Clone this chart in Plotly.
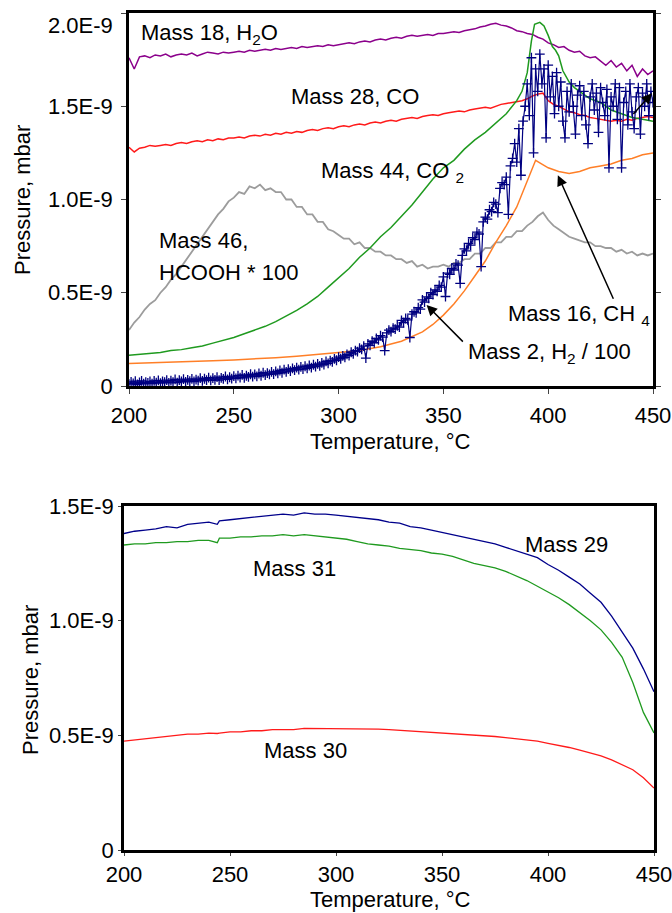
import plotly.graph_objects as go

E9 = 1e-9  # pressures below are given in units of 1E-9 mbar

# ---------------- upper panel: formic acid decomposition products ----------------
t_fine = [200 + 2.5 * i for i in range(101)]          # 200 ... 450 °C

h2o_18 = [1.76, 1.70, 1.765, 1.77, 1.76, 1.775, 1.77, 1.78, 1.765, 1.775,
          1.78, 1.775, 1.785, 1.77, 1.78, 1.79, 1.785, 1.78, 1.79, 1.785,
          1.79, 1.795, 1.79, 1.80, 1.795, 1.80, 1.805, 1.80, 1.81, 1.805,
          1.81, 1.815, 1.81, 1.82, 1.815, 1.82, 1.825, 1.82, 1.83, 1.825,
          1.83, 1.835, 1.84, 1.835, 1.845, 1.85, 1.845, 1.855, 1.86, 1.855,
          1.865, 1.87, 1.865, 1.875, 1.88, 1.875, 1.88, 1.885, 1.88, 1.89,
          1.89, 1.895, 1.90, 1.895, 1.905, 1.91, 1.915, 1.925, 1.93, 1.94,
          1.945, 1.935, 1.93, 1.92, 1.905, 1.90, 1.89, 1.885, 1.87, 1.86,
          1.84, 1.83, 1.815, 1.82, 1.80, 1.79, 1.795, 1.77, 1.76, 1.765,
          1.74, 1.72, 1.745, 1.71, 1.73, 1.69, 1.72, 1.66, 1.70, 1.67,
          1.69]

co_28 = [1.28, 1.255, 1.275, 1.28, 1.29, 1.285, 1.29, 1.295, 1.29, 1.30,
         1.305, 1.30, 1.31, 1.315, 1.31, 1.32, 1.315, 1.325, 1.32, 1.33,
         1.33, 1.335, 1.33, 1.34, 1.345, 1.34, 1.35, 1.345, 1.355, 1.35,
         1.36, 1.355, 1.365, 1.36, 1.37, 1.375, 1.37, 1.38, 1.385, 1.38,
         1.39, 1.395, 1.39, 1.40, 1.405, 1.40, 1.41, 1.415, 1.41, 1.42,
         1.425, 1.42, 1.43, 1.435, 1.44, 1.435, 1.445, 1.45, 1.455, 1.45,
         1.46, 1.465, 1.47, 1.475, 1.47, 1.48, 1.485, 1.49, 1.495, 1.49,
         1.50, 1.51, 1.515, 1.52, 1.525, 1.53, 1.54, 1.555, 1.565, 1.57,
         1.53, 1.51, 1.50, 1.485, 1.47, 1.465, 1.455, 1.45, 1.44, 1.435,
         1.43, 1.425, 1.42, 1.425, 1.42, 1.43, 1.425, 1.435, 1.44, 1.445,
         1.44]

hcooh_46 = [0.30, 0.34, 0.37, 0.41, 0.44, 0.46, 0.50, 0.53, 0.57, 0.60,
            0.64, 0.68, 0.72, 0.76, 0.80, 0.84, 0.88, 0.92, 0.95, 0.99,
            1.01, 1.04, 1.03, 1.07, 1.06, 1.08, 1.05, 1.06, 1.04, 1.04,
            1.00, 1.00, 0.96, 0.96, 0.92, 0.92, 0.88, 0.88, 0.84, 0.83,
            0.81, 0.79, 0.79, 0.76, 0.77, 0.74, 0.74, 0.72, 0.72, 0.70,
            0.70, 0.68, 0.68, 0.66, 0.67, 0.64, 0.65, 0.63, 0.64, 0.64,
            0.65, 0.64, 0.66, 0.66, 0.68, 0.68, 0.71, 0.71, 0.74, 0.74,
            0.77, 0.77, 0.80, 0.80, 0.83, 0.83, 0.86, 0.88, 0.91, 0.93,
            0.89, 0.86, 0.84, 0.82, 0.80, 0.79, 0.78, 0.77, 0.77, 0.75,
            0.75, 0.74, 0.74, 0.72, 0.73, 0.71, 0.72, 0.70, 0.71, 0.70,
            0.71]

t_co2 = [200, 205, 210, 215, 220, 225, 230, 235, 240, 245, 250, 255, 260, 265,
         270, 275, 280, 285, 290, 295, 300, 305, 310, 315, 320, 325, 330, 335,
         340, 345, 350, 355, 360, 365, 370, 375, 380, 385, 387.5, 390, 392,
         393.5, 396, 398, 400, 402, 403.5, 405, 407, 410, 412.5, 415, 420, 425,
         430, 435, 440, 445, 450]
co2_44 = [0.165, 0.17, 0.175, 0.18, 0.19, 0.195, 0.205, 0.215, 0.23, 0.245,
          0.26, 0.28, 0.30, 0.32, 0.345, 0.375, 0.405, 0.44, 0.48, 0.53,
          0.58, 0.63, 0.69, 0.74, 0.80, 0.85, 0.91, 0.97, 1.04, 1.11,
          1.17, 1.21, 1.27, 1.32, 1.36, 1.41, 1.46, 1.53, 1.58, 1.68, 1.85,
          1.94, 1.95, 1.93, 1.88, 1.82, 1.80, 1.77, 1.69, 1.63, 1.60, 1.58,
          1.54, 1.52, 1.48, 1.46, 1.44, 1.43, 1.42]

t_ch4 = [200, 210, 220, 230, 240, 250, 260, 270, 280, 290, 300, 310, 320, 330,
         340, 345, 350, 355, 360, 365, 370, 375, 380, 385, 390, 394, 397, 400,
         405, 410, 415, 420, 425, 430, 435, 440, 445, 450]
ch4_16 = [0.12, 0.125, 0.128, 0.132, 0.136, 0.14, 0.145, 0.152, 0.16, 0.168,
          0.18, 0.19, 0.21, 0.24, 0.29, 0.33, 0.38, 0.44, 0.51, 0.59, 0.67,
          0.77, 0.86, 0.96, 1.10, 1.21, 1.19, 1.17, 1.15, 1.14, 1.15, 1.17,
          1.18, 1.19, 1.21, 1.22, 1.24, 1.25]

t_h2 = list(range(200, 451))                             # one reading per °C
h2_2 = [0.010, 0.022, 0.014, 0.026, 0.008, 0.019, 0.027, 0.012, 0.021, 0.016,
        0.024, 0.013, 0.028, 0.018, 0.030, 0.015, 0.025, 0.020, 0.032, 0.017,
        0.029, 0.021, 0.035, 0.018, 0.031, 0.024, 0.037, 0.022, 0.033, 0.026,
        0.038, 0.024, 0.034, 0.029, 0.042, 0.027, 0.039, 0.031, 0.045, 0.030,
        0.042, 0.033, 0.048, 0.031, 0.044, 0.038, 0.051, 0.036, 0.047, 0.040,
        0.053, 0.041, 0.056, 0.045, 0.060, 0.044, 0.055, 0.049, 0.063, 0.050,
        0.062, 0.052, 0.067, 0.055, 0.071, 0.058, 0.069, 0.062, 0.076, 0.064,
        0.078, 0.068, 0.083, 0.071, 0.088, 0.076, 0.091, 0.080, 0.094, 0.085,
        0.098, 0.088, 0.103, 0.090, 0.106, 0.095, 0.110, 0.099, 0.114, 0.104,
        0.119, 0.108, 0.124, 0.115, 0.132, 0.121, 0.136, 0.129, 0.145, 0.138,
        0.155, 0.146, 0.162, 0.154, 0.170, 0.163, 0.181, 0.172, 0.190, 0.184,
        0.203, 0.196, 0.214, 0.150, 0.226, 0.218, 0.240, 0.232, 0.255, 0.247,
        0.270, 0.262, 0.190, 0.285, 0.300, 0.292, 0.310, 0.305, 0.322, 0.316,
        0.352, 0.340, 0.362, 0.355, 0.260, 0.385, 0.398, 0.392, 0.420, 0.412,
        0.462, 0.450, 0.478, 0.470, 0.500, 0.490, 0.515, 0.508, 0.540, 0.530,
        0.585, 0.480, 0.605, 0.598, 0.630, 0.622, 0.655, 0.648, 0.550, 0.700,
        0.735, 0.725, 0.765, 0.755, 0.795, 0.785, 0.825, 0.815, 0.640, 0.880,
        0.905, 0.895, 0.945, 0.935, 0.985, 0.975, 0.930, 1.060, 1.090, 1.080,
        1.12, 0.92, 1.18, 1.22, 1.30, 1.20, 1.38, 1.13, 1.42, 1.50,
        1.62, 1.45, 1.76, 1.25, 1.70, 1.58, 1.78, 1.62, 1.70, 1.33,
        1.72, 1.55, 1.66, 1.46, 1.68, 1.50, 1.63, 1.42, 1.33, 1.58,
        1.47, 1.62, 1.50, 1.35, 1.56, 1.61, 1.45, 1.58, 1.40, 1.30,
        1.55, 1.62, 1.48, 1.57, 1.36, 1.60, 1.52, 1.45, 1.59, 1.17,
        1.55, 1.50, 1.62, 1.43, 1.60, 1.17, 1.52, 1.58, 1.40, 1.62,
        1.47, 1.38, 1.55, 1.60, 1.35, 1.57, 1.50, 1.62, 1.45, 1.58,
        1.52]

# ---------------- lower panel: masses 29, 30, 31 ----------------
t_low = [200, 205, 210, 215, 220, 225, 230, 235, 240, 244, 245, 250, 255, 260,
         265, 270, 275, 280, 285, 290, 295, 300, 305, 310, 315, 320, 325, 330,
         335, 340, 345, 350, 355, 360, 365, 370, 375, 380, 385, 390, 395, 400,
         405, 410, 415, 420, 425, 430, 435, 440, 445, 450]
mass_29 = [1.38, 1.39, 1.395, 1.40, 1.41, 1.405, 1.42, 1.425, 1.43, 1.42, 1.435,
           1.44, 1.445, 1.45, 1.455, 1.46, 1.465, 1.46, 1.47, 1.465, 1.465,
           1.46, 1.455, 1.45, 1.445, 1.44, 1.43, 1.425, 1.41, 1.405, 1.395,
           1.385, 1.375, 1.365, 1.355, 1.345, 1.335, 1.32, 1.305, 1.29, 1.275,
           1.245, 1.22, 1.19, 1.16, 1.12, 1.08, 1.02, 0.95, 0.88, 0.79, 0.69]
mass_31 = [1.33, 1.335, 1.335, 1.34, 1.34, 1.345, 1.345, 1.35, 1.35, 1.34, 1.36,
           1.36, 1.365, 1.365, 1.37, 1.37, 1.375, 1.37, 1.375, 1.37, 1.365,
           1.36, 1.355, 1.345, 1.335, 1.33, 1.325, 1.315, 1.31, 1.305, 1.295,
           1.29, 1.28, 1.265, 1.25, 1.24, 1.23, 1.215, 1.195, 1.175, 1.15,
           1.125, 1.10, 1.07, 1.035, 1.00, 0.96, 0.905, 0.84, 0.73, 0.60, 0.51]
mass_30 = [0.475, 0.48, 0.485, 0.49, 0.495, 0.50, 0.505, 0.505, 0.51, 0.508, 0.51,
           0.515, 0.515, 0.52, 0.52, 0.525, 0.525, 0.525, 0.53, 0.53, 0.53,
           0.53, 0.53, 0.53, 0.528, 0.527, 0.525, 0.522, 0.52, 0.518, 0.515,
           0.513, 0.51, 0.507, 0.503, 0.50, 0.495, 0.49, 0.485, 0.48, 0.475,
           0.465, 0.457, 0.447, 0.435, 0.423, 0.41, 0.393, 0.372, 0.35, 0.315,
           0.27]

x_ticks = [200, 250, 300, 350, 400, 450]
y_ticks_top = [0, 0.5, 1.0, 1.5, 2.0]
y_ticks_low = [0, 0.5, 1.0, 1.5]
y_ticktext = {0: "0", 0.5: "0.5E-9", 1.0: "1.0E-9", 1.5: "1.5E-9", 2.0: "2.0E-9"}

FONT = "Arial, 'Liberation Sans', Helvetica, sans-serif"
FS = 22
W, H = 672, 913


def scaled(vals):
    return [v * E9 for v in vals]


fig = go.Figure()

line_traces = [
    (t_fine, h2o_18, "#8b008b", 1.5, "x", "y"),
    (t_fine, co_28, "#ff1a1a", 1.5, "x", "y"),
    (t_fine, hcooh_46, "#9c9c9c", 1.8, "x", "y"),
    (t_co2, co2_44, "#1f9a1f", 1.5, "x", "y"),
    (t_ch4, ch4_16, "#ff7f27", 1.5, "x", "y"),
    (t_low, mass_30, "#ff1a1a", 1.3, "x2", "y2"),
    (t_low, mass_31, "#1f9a1f", 1.3, "x2", "y2"),
    (t_low, mass_29, "#00008b", 1.3, "x2", "y2"),
]
for xs, ys, col, lw, xa, ya in line_traces:
    fig.add_trace(go.Scatter(x=xs, y=scaled(ys), mode="lines",
                             line=dict(color=col, width=lw),
                             xaxis=xa, yaxis=ya, showlegend=False,
                             hoverinfo="skip"))

# hydrogen signal drawn with "+" markers on every point
fig.add_trace(go.Scatter(x=t_h2, y=scaled(h2_2), mode="lines+markers",
                         line=dict(color="#000080", width=1.2),
                         marker=dict(symbol="cross-thin", size=7,
                                     line=dict(color="#000080", width=1.3)),
                         xaxis="x", yaxis="y", showlegend=False,
                         hoverinfo="skip"))

axis_common = dict(showline=True, linecolor="black", linewidth=2.5,
                   showgrid=False, zeroline=False, ticks="outside",
                   tickwidth=1, tickcolor="#444", automargin=False,
                   ticklabeloverflow="allow",
                   tickfont=dict(family=FONT, size=FS, color="black"))

top_y0, top_y1 = 1 - 386 / H, 1 - 13 / H
low_y0, low_y1 = 1 - 850 / H, 1 - 506 / H

# the top tick label of the upper panel is written separately, just below the frame
top_ticktext = [y_ticktext[v] if v < 2.0 else "" for v in y_ticks_top]

fig.update_layout(
    width=W, height=H,
    margin=dict(l=0, r=0, t=0, b=0),
    paper_bgcolor="white", plot_bgcolor="white",
    xaxis=dict(domain=[129 / W, 653 / W], range=[200, 450], anchor="y",
               tickvals=x_ticks, mirror=True, ticklen=5,
               ticklabelstandoff=3, **axis_common),
    yaxis=dict(domain=[top_y0, top_y1], range=[0, 2.0 * E9], anchor="x",
               tickvals=scaled(y_ticks_top), ticktext=top_ticktext,
               mirror="ticks", ticklen=5, ticklabelstandoff=4, **axis_common),
    xaxis2=dict(domain=[124 / W, 654 / W], range=[200, 450], anchor="y2",
                tickvals=x_ticks, mirror=True, ticklen=3,
                ticklabelstandoff=0, **axis_common),
    yaxis2=dict(domain=[low_y0, low_y1], range=[0, 1.5 * E9], anchor="x2",
                tickvals=scaled(y_ticks_low),
                ticktext=[y_ticktext[v] for v in y_ticks_low],
                mirror=True, ticklen=3, ticklabelstandoff=0, **axis_common),
)

fig.add_annotation(text=y_ticktext[2.0], x=115 / W, y=1 - 26 / H,
                   xref="paper", yref="paper", showarrow=False,
                   xanchor="right", yanchor="middle",
                   font=dict(family=FONT, size=FS, color="black"))

label_font = dict(family=FONT, size=FS, color="black")


def label(text, x, y, xref="x", yref="y"):
    fig.add_annotation(text=text, x=x, y=y * E9, xref=xref, yref=yref,
                       xanchor="left", yanchor="middle", showarrow=False,
                       borderpad=0, font=label_font)


label("Mass 18, H<sub>2</sub>O", 205.3, 1.89)
label("Mass 28, CO", 277, 1.55)
label("Mass 44, CO <sub>2</sub>", 291.3, 1.15)
label("Mass 46,", 213.9, 0.78)
label("HCOOH * 100", 213.9, 0.61)
label("Mass 16, CH <sub>4</sub>", 380.2, 0.38)
label("Mass 2, H<sub>2</sub> / 100", 361.1, 0.175)

label("Mass 29", 388.7, 1.33, "x2", "y2")
label("Mass 31", 260.4, 1.227, "x2", "y2")
label("Mass 30", 265.6, 0.433, "x2", "y2")


def arrow(x_tip, y_tip, x_tail, y_tail):
    fig.add_annotation(text="", x=x_tip, y=y_tip * E9, ax=x_tail,
                       ay=y_tail * E9, xref="x", yref="y", axref="x",
                       ayref="y", showarrow=True, arrowhead=2, arrowsize=1.4,
                       arrowwidth=1.5, arrowcolor="black")


arrow(404.6, 1.13, 431.4, 0.46)
arrow(342.0, 0.434, 360.0, 0.23)
arrow(449.5, 1.57, 440.0, 1.45)

# axis titles
title_font = dict(family=FONT, size=FS, color="black")
for cx, cy in [(390, 441), (390, 899)]:
    fig.add_annotation(text="Temperature, °C", x=cx / W, y=1 - cy / H,
                       xref="paper", yref="paper", showarrow=False,
                       xanchor="center", yanchor="middle", font=title_font)
for cx, cy in [(22, 200), (30, 680)]:
    fig.add_annotation(text="Pressure, mbar", x=cx / W, y=1 - cy / H,
                       xref="paper", yref="paper", showarrow=False,
                       textangle=-90, xanchor="center", yanchor="middle",
                       font=title_font)

fig.write_html("out.html")
